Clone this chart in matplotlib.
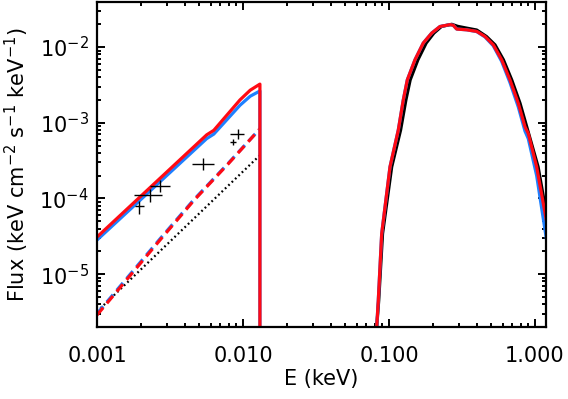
import matplotlib
matplotlib.use("Agg")
import matplotlib.pyplot as plt
from matplotlib.ticker import LogLocator, FixedLocator, FuncFormatter, NullFormatter

# ---- data (E in keV, flux in keV cm^-2 s^-1 keV^-1) ----
# low energy power-law part, cut off at ~0.0131 keV
lo_E = [0.001, 0.00564, 0.00631, 0.00953, 0.0112, 0.01306, 0.01306]
lo_red = [3.09e-5, 6.92e-4, 7.94e-4, 2.0e-3, 2.69e-3, 3.24e-3, 1e-8]
lo_blue = [2.82e-5, 6.17e-4, 7.08e-4, 1.70e-3, 2.24e-3, 2.63e-3, 1e-8]

dash_E = [0.001, 0.0027, 0.00459, 0.00794, 0.01306]
dash_red = [2.88e-6, 2.82e-5, 9.33e-5, 2.88e-4, 8.32e-4]
dash_blue = [3.0e-6, 2.92e-5, 9.55e-5, 2.92e-4, 8.32e-4]

dot_E = [0.001, 0.00459, 0.01306]
dot_black = [3.2e-6, 5.37e-5, 3.72e-4]

# X-ray hump
hump_E = [0.0820, 0.08236, 0.08446, 0.08913, 0.1016, 0.1158, 0.1253, 0.1335, 0.1507, 0.1717,
          0.1961, 0.2235, 0.2617, 0.2756, 0.2909, 0.3404, 0.3989, 0.4545, 0.5181, 0.5914,
          0.6743, 0.7685, 0.8541, 0.8997, 1.027, 1.203]
hump_red = [1e-6, 1.97e-6, 4.46e-6, 3.41e-5, 2.61e-4, 8.0e-4, 2.0e-3, 3.68e-3, 6.79e-3, 1.13e-2,
            1.53e-2, 1.87e-2, 1.98e-2, 1.94e-2, 1.73e-2, 1.69e-2, 1.61e-2, 1.38e-2, 1.07e-2, 6.79e-3,
            3.68e-3, 1.81e-3, 8.85e-4, 7.23e-4, 2.61e-4, 4.86e-5]
hump_blue = [1e-6, 1.97e-6, 4.46e-6, 3.41e-5, 2.61e-4, 8.0e-4, 2.0e-3, 3.68e-3, 6.79e-3, 1.13e-2,
             1.53e-2, 1.87e-2, 1.98e-2, 1.94e-2, 1.73e-2, 1.69e-2, 1.60e-2, 1.36e-2, 1.04e-2, 6.46e-3,
             3.39e-3, 1.62e-3, 7.76e-4, 6.17e-4, 2.0e-4, 2.75e-5]
hump_E_black = [0.0820, 0.08236, 0.08505, 0.09036, 0.1044, 0.1201, 0.1306, 0.1397, 0.1578, 0.1798,
                0.2030, 0.2287, 0.2692, 0.2951, 0.3404, 0.3989, 0.4651, 0.5326, 0.6080, 0.6932,
                0.7901, 0.8780, 1.051, 1.225]
hump_black = [1e-6, 1.97e-6, 4.46e-6, 3.41e-5, 2.61e-4, 8.0e-4, 2.0e-3, 3.68e-3, 6.79e-3, 1.13e-2,
              1.53e-2, 1.87e-2, 2.0e-2, 1.88e-2, 1.78e-2, 1.68e-2, 1.38e-2, 1.07e-2, 6.79e-3, 3.68e-3,
              1.81e-3, 8.85e-4, 2.61e-4, 4.86e-5]

# data points with x and y error ranges
pt_E = [0.00193, 0.00231, 0.00272, 0.00532, 0.00855, 0.0092]
pt_E_lo = [0.00182, 0.00179, 0.00231, 0.00448, 0.00815, 0.00815]
pt_E_hi = [0.00210, 0.00279, 0.00316, 0.00632, 0.00895, 0.01016]
pt_F = [7.9e-5, 1.10e-4, 1.44e-4, 2.88e-4, 5.57e-4, 7.05e-4]
pt_F_lo = [6.3e-5, 8.85e-5, 1.21e-4, 2.35e-4, 5.04e-4, 6.04e-4]
pt_F_hi = [9.2e-5, 1.35e-4, 1.73e-4, 3.39e-4, 6.04e-4, 8.2e-4]

xticks = [0.001, 0.01, 0.1, 1.0]

RED = "#ff0a14"
BLUE = "#1e80ff"

plt.rcParams['font.family'] = 'DejaVu Sans'
fig = plt.figure(figsize=(5.68, 3.99), dpi=100)
ax = fig.add_axes([97 / 568, 72 / 399, 449 / 568, 325 / 399])

lw = 2.3
ax.plot(dot_E, dot_black, color="black", lw=1.6, dashes=(0.8, 1.3))
ax.plot(dash_E, dash_blue, color=BLUE, lw=lw, dashes=(3.0, 1.8))
ax.plot(dash_E, dash_red, color=RED, lw=lw, dashes=(3.0, 1.8))
ax.plot(lo_E, lo_blue, color=BLUE, lw=lw)
ax.plot(lo_E, lo_red, color=RED, lw=lw)
ax.plot(hump_E_black, hump_black, color="black", lw=lw)
ax.plot(hump_E, hump_blue, color=BLUE, lw=lw)
ax.plot(hump_E, hump_red, color=RED, lw=lw)

xerr = [[e - l for e, l in zip(pt_E, pt_E_lo)], [h - e for e, h in zip(pt_E, pt_E_hi)]]
yerr = [[f - l for f, l in zip(pt_F, pt_F_lo)], [h - f for f, h in zip(pt_F, pt_F_hi)]]
ax.errorbar(pt_E, pt_F, xerr=xerr, yerr=yerr, fmt="none", ecolor="black", elinewidth=1.0, capsize=0)

ax.set_xscale("log")
ax.set_yscale("log")
ax.set_xlim(0.001, 1.19)
ax.set_ylim(2.0e-6, 0.0394)

ax.xaxis.set_major_locator(FixedLocator(xticks))
ax.xaxis.set_major_formatter(FuncFormatter(lambda v, p: "%.3f" % v))
ax.xaxis.set_minor_locator(LogLocator(base=10, subs=range(2, 10)))
ax.xaxis.set_minor_formatter(NullFormatter())
ax.yaxis.set_major_locator(LogLocator(base=10, numticks=10))
ax.yaxis.set_minor_locator(LogLocator(base=10, subs=range(2, 10), numticks=10))
ax.yaxis.set_minor_formatter(NullFormatter())

for s in ax.spines.values():
    s.set_linewidth(1.6)
ax.tick_params(which="both", direction="in", top=True, right=True, width=1.4, labelsize=15)
ax.tick_params(which="major", length=6)
ax.tick_params(which="minor", length=3)
ax.tick_params(axis="x", which="major", pad=14)
ax.tick_params(axis="y", which="major", pad=6)

ax.set_xlabel("E (keV)", fontsize=15, labelpad=2)
ax.set_ylabel("Flux (keV cm$^{-2}$ s$^{-1}$ keV$^{-1}$)", fontsize=15, labelpad=6)

fig.savefig("out.png", dpi=100)
